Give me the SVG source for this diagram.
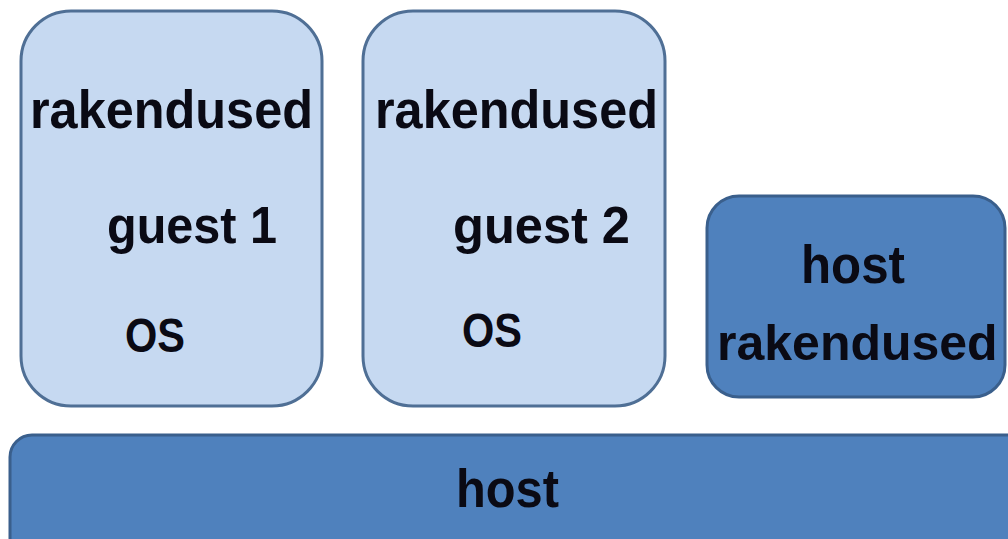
<svg xmlns="http://www.w3.org/2000/svg" width="1008" height="539" viewBox="0 0 1008 539">
<style>
.light{fill:#c6d9f1;stroke:#4f6f95;stroke-width:3}
.dark{fill:#4f81bd;stroke:#3a5f8c;stroke-width:3}
.t{font-family:"Liberation Sans",Arial,sans-serif;font-weight:bold;fill:#0a0a14}
</style>
<rect width="1008" height="539" fill="#ffffff"/>
<g id="guest1">
<rect class="light" x="21" y="11" width="301" height="395" rx="50" ry="50"/>
<text class="t" x="30" y="128" font-size="54" textLength="283" lengthAdjust="spacingAndGlyphs">rakendused</text>
<text class="t" x="107" y="243" font-size="52" textLength="170" lengthAdjust="spacingAndGlyphs">guest 1</text>
<text class="t" x="125" y="352" font-size="49" textLength="60" lengthAdjust="spacingAndGlyphs">OS</text>
</g>
<g id="guest2">
<rect class="light" x="363" y="11" width="302" height="395" rx="50" ry="50"/>
<text class="t" x="375" y="128" font-size="54" textLength="283" lengthAdjust="spacingAndGlyphs">rakendused</text>
<text class="t" x="453" y="243" font-size="52" textLength="177" lengthAdjust="spacingAndGlyphs">guest 2</text>
<text class="t" x="462" y="347" font-size="49" textLength="60" lengthAdjust="spacingAndGlyphs">OS</text>
</g>
<g id="host-rakendused">
<rect class="dark" x="707" y="196" width="298" height="201" rx="32" ry="32"/>
<text class="t" x="801" y="283" font-size="54" textLength="104" lengthAdjust="spacingAndGlyphs">host</text>
<text class="t" x="717" y="360" font-size="50">rakendused</text>
</g>
<g id="host">
<rect class="dark" x="10" y="435" width="1020" height="130" rx="22" ry="22"/>
<text class="t" x="456" y="507" font-size="54" textLength="103" lengthAdjust="spacingAndGlyphs">host</text>
</g>
<g id="connectors"></g>
</svg>
